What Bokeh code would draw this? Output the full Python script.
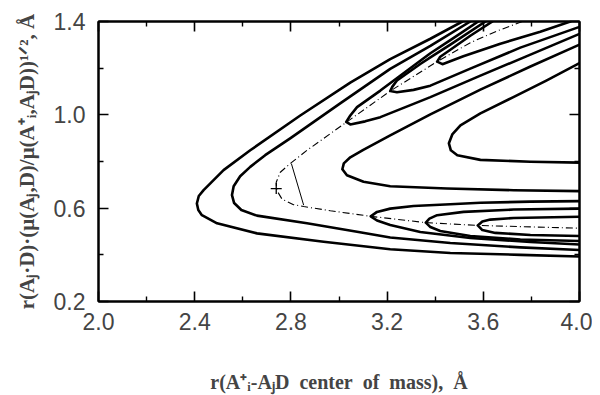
from bokeh.plotting import figure
from bokeh.models import Range1d, FixedTicker, LinearAxis
from bokeh.embed import file_html
from bokeh.resources import INLINE

# ---- axis ticks ----
x_ticks = [2.0, 2.4, 2.8, 3.2, 3.6, 4.0]
x_tick_labels = ["2.0", "2.4", "2.8", "3.2", "3.6", "4.0"]
x_minor = [2.2, 2.6, 3.0, 3.4, 3.8]
y_ticks = [0.2, 0.6, 1.0, 1.4]
y_tick_labels = ["0.2", "0.6", "1.0", "1.4"]
y_minor = [0.4, 0.8, 1.2]

x_title = "r(A\u207a\u1d62-A\u2c7cD\u00a0\u00a0center\u00a0\u00a0of\u00a0\u00a0mass),\u00a0\u00a0\u00c5"
y_title = "r(A\u2c7c\u00b7D)\u00b7(\u03bc(A\u2c7c,D)/\u03bc(A\u207a\u1d62,A\u2c7cD))\u00b9\u141f\u00b2, \u00c5"

# ---- contour lines (data coordinates) ----
contour_a_x = [3.513, 3.380, 3.213, 3.047, 2.839, 2.631, 2.520, 2.437, 2.417, 2.409, 2.415, 2.430, 2.493, 2.659, 2.936, 3.213, 3.463, 3.754, 4.000]
contour_a_y = [1.400, 1.326, 1.239, 1.138, 0.997, 0.848, 0.763, 0.677, 0.652, 0.620, 0.592, 0.570, 0.535, 0.492, 0.456, 0.424, 0.408, 0.400, 0.393]

contour_b_x = [3.546, 3.380, 3.213, 3.005, 2.797, 2.693, 2.631, 2.589, 2.562, 2.555, 2.564, 2.594, 2.659, 2.867, 3.075, 3.213, 3.463, 3.754, 4.000]
contour_b_y = [1.400, 1.296, 1.197, 1.049, 0.899, 0.827, 0.777, 0.737, 0.694, 0.656, 0.622, 0.592, 0.568, 0.535, 0.499, 0.474, 0.451, 0.432, 0.421]

contour_d_x = [4.000, 3.796, 3.588, 3.380, 3.213, 3.101, 3.047, 3.020, 3.014, 3.033, 3.102, 3.213, 3.449, 3.726, 4.000]
contour_d_y = [1.301, 1.207, 1.108, 1.002, 0.912, 0.850, 0.818, 0.792, 0.767, 0.741, 0.713, 0.694, 0.684, 0.677, 0.673]

contour_e_x = [4.000, 3.862, 3.725, 3.588, 3.505, 3.471, 3.457, 3.465, 3.492, 3.588, 3.796, 4.000]
contour_e_y = [1.222, 1.147, 1.076, 1.006, 0.955, 0.916, 0.878, 0.848, 0.827, 0.807, 0.799, 0.795]

upper_loop1_x = [3.579, 3.463, 3.380, 3.338, 3.172, 3.075, 3.047, 3.030, 3.047, 3.109, 3.172, 3.310, 3.380, 3.588, 3.796, 4.000]
upper_loop1_y = [1.400, 1.320, 1.264, 1.232, 1.104, 1.033, 0.997, 0.970, 0.959, 0.972, 0.990, 1.047, 1.076, 1.168, 1.258, 1.347]

upper_loop2_x = [3.609, 3.463, 3.380, 3.338, 3.241, 3.222, 3.213, 3.241, 3.310, 3.380, 3.546, 3.754, 4.000]
upper_loop2_y = [1.400, 1.301, 1.246, 1.218, 1.147, 1.121, 1.102, 1.097, 1.107, 1.125, 1.198, 1.288, 1.377]

upper_loop3_x = [3.638, 3.546, 3.463, 3.421, 3.408, 3.430, 3.517, 3.671, 3.837, 3.962]
upper_loop3_y = [1.400, 1.339, 1.279, 1.249, 1.228, 1.217, 1.251, 1.305, 1.356, 1.400]

lower_loop1_x = [4.000, 3.796, 3.588, 3.463, 3.310, 3.213, 3.158, 3.132, 3.158, 3.213, 3.338, 3.546, 3.796, 4.000]
lower_loop1_y = [0.630, 0.628, 0.623, 0.617, 0.609, 0.598, 0.584, 0.565, 0.547, 0.528, 0.498, 0.472, 0.455, 0.444]

lower_loop2_x = [4.000, 3.726, 3.518, 3.408, 3.376, 3.361, 3.380, 3.421, 3.546, 3.754, 4.000]
lower_loop2_y = [0.598, 0.594, 0.584, 0.570, 0.555, 0.538, 0.519, 0.502, 0.481, 0.466, 0.459]

lower_loop3_x = [4.000, 3.726, 3.629, 3.596, 3.577, 3.596, 3.650, 3.796, 4.000]
lower_loop3_y = [0.563, 0.558, 0.551, 0.543, 0.526, 0.506, 0.494, 0.485, 0.481]

# reaction path (dash-dot)
path_x = [3.762, 3.659, 3.546, 3.408, 3.213, 3.033, 2.867, 2.797, 2.756, 2.739, 2.741, 2.763, 2.811, 2.853, 2.964, 3.132, 3.361, 3.577, 4.000]
path_y = [1.400, 1.360, 1.309, 1.228, 1.102, 0.970, 0.848, 0.791, 0.754, 0.711, 0.677, 0.639, 0.615, 0.607, 0.589, 0.565, 0.538, 0.526, 0.514]

# dividing line across the path and the saddle marker
divider_x = [2.802, 2.853]
divider_y = [0.791, 0.613]
saddle_x = [2.739]
saddle_y = [0.684]

# ---- figure ----
p = figure(width=592, height=395,
           x_range=Range1d(2.0, 4.0), y_range=Range1d(0.2, 1.4),
           output_backend="svg", toolbar_location=None,
           min_border_left=98, min_border_right=13,
           min_border_top=21, min_border_bottom=93)
p.xgrid.visible = False
p.ygrid.visible = False
p.outline_line_color = "black"
p.outline_line_width = 2
p.background_fill_color = "white"
p.border_fill_color = "white"

contours = [
    (contour_a_x, contour_a_y), (contour_b_x, contour_b_y),
    (contour_d_x, contour_d_y), (contour_e_x, contour_e_y),
    (upper_loop1_x, upper_loop1_y), (upper_loop2_x, upper_loop2_y),
    (upper_loop3_x, upper_loop3_y),
    (lower_loop1_x, lower_loop1_y), (lower_loop2_x, lower_loop2_y),
    (lower_loop3_x, lower_loop3_y),
]
for cx, cy in contours:
    p.line(cx, cy, line_color="black", line_width=2.6, line_join="round", line_cap="round")

p.line(path_x, path_y, line_color="black", line_width=1.1, line_dash="7 3 1 3")
p.line(divider_x, divider_y, line_color="black", line_width=1.0)
p.scatter(saddle_x, saddle_y, marker="cross", size=11, line_color="black", line_width=1.3)

xt = FixedTicker(ticks=x_ticks, minor_ticks=x_minor)
yt = FixedTicker(ticks=y_ticks, minor_ticks=y_minor)

tick_font = "Liberation Sans"

def style_axis(ax):
    ax.axis_line_color = "black"
    ax.axis_line_width = 2
    ax.major_tick_in = 10
    ax.major_tick_out = 0
    ax.minor_tick_in = 5
    ax.minor_tick_out = 0
    ax.major_tick_line_width = 1.6
    ax.minor_tick_line_width = 1.4
    ax.major_tick_line_color = "black"
    ax.minor_tick_line_color = "black"

xa = p.xaxis[0]
xa.ticker = xt
xa.major_label_overrides = {t: l for t, l in zip(x_ticks, x_tick_labels)}
style_axis(xa)
xa.major_label_text_font = tick_font
xa.major_label_text_font_size = "23px"
xa.major_label_standoff = 11
xa.axis_label = x_title
xa.axis_label_text_font = "Liberation Serif"
xa.axis_label_text_font_size = "20px"
xa.axis_label_text_font_style = "bold"
xa.axis_label_standoff = 38

ya = p.yaxis[0]
ya.ticker = yt
ya.major_label_overrides = {t: l for t, l in zip(y_ticks, y_tick_labels)}
style_axis(ya)
ya.major_label_text_font = tick_font
ya.major_label_text_font_size = "23px"
ya.major_label_standoff = 13
ya.axis_label = y_title
ya.axis_label_text_font = "Liberation Serif"
ya.axis_label_text_font_size = "21px"
ya.axis_label_text_font_style = "bold"
ya.axis_label_standoff = 12

top = LinearAxis(ticker=xt, major_label_text_color=None, major_label_standoff=0)
style_axis(top)
p.add_layout(top, "above")
right = LinearAxis(ticker=yt, major_label_text_color=None, major_label_standoff=0)
style_axis(right)
p.add_layout(right, "right")

open("out.html", "w").write(file_html(p, INLINE))
